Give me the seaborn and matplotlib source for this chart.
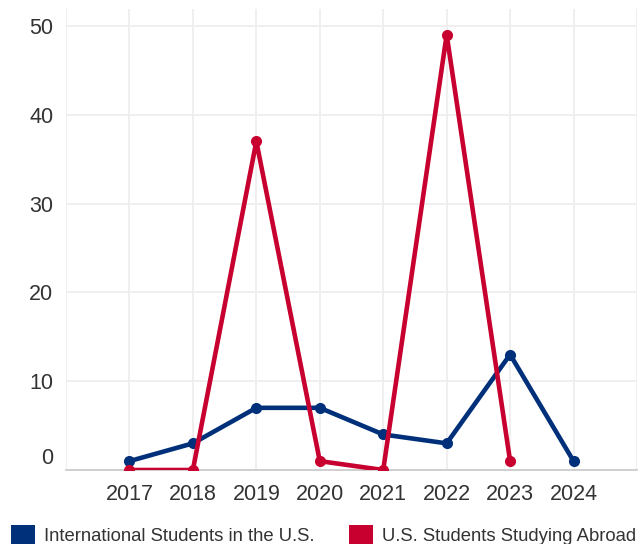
import matplotlib
matplotlib.use("Agg")
import matplotlib.pyplot as plt
import matplotlib.transforms as mtransforms
from matplotlib.patches import Patch
import seaborn as sns
import pandas as pd

years = [2017, 2018, 2019, 2020, 2021, 2022, 2023, 2024]
intl_students = [1, 3, 7, 7, 4, 3, 13, 1]
us_abroad = [0, 0, 37, 1, 0, 49, 1, None]
series_names = ["International Students in the U.S.", "U.S. Students Studying Abroad"]
colors = ["#00307A", "#C8002F"]
y_ticks = [0, 10, 20, 30, 40, 50]

df = pd.DataFrame({
    "year": years * 2,
    "value": intl_students + us_abroad,
    "series": [series_names[0]] * len(years) + [series_names[1]] * len(years),
}).dropna()

sns.set_theme(style="white")
plt.rcParams["font.family"] = ["Liberation Sans", "DejaVu Sans"]

fig = plt.figure(figsize=(6.42, 5.44), dpi=100)
ax = fig.add_axes([66 / 642, (544 - 470) / 544, (637 - 66) / 642, (470 - 9) / 544])

sns.lineplot(data=df, x="year", y="value", hue="series", palette=colors,
             hue_order=series_names, marker="o", markersize=8, markeredgewidth=0,
             linewidth=3.3, ax=ax, legend=False, zorder=3)

ax.set_xlim(2016, 2025)
ax.set_ylim(0, 51.9)
ax.set_xticks(list(range(2016, 2026)))
ax.set_xticklabels([""] + [str(y) for y in years] + [""])
ax.set_yticks(y_ticks)
ax.set_yticklabels([str(v) for v in y_ticks])
ax.grid(True, color="#eeeeee", linewidth=1.3)
ax.set_axisbelow(True)
ax.set_xlabel("")
ax.set_ylabel("")

for s in ["top", "right", "left"]:
    ax.spines[s].set_visible(False)
ax.spines["bottom"].set_color("#cccccc")
ax.spines["bottom"].set_linewidth(1.3)

ax.tick_params(axis="x", length=0, pad=10, labelsize=15.5, labelcolor="#333333")
ax.tick_params(axis="y", length=7, width=1.3, color="#eeeeee", pad=2,
               labelsize=15.5, labelcolor="#333333")
ax.set_xticks([2016, 2025], minor=True)
ax.tick_params(axis="x", which="minor", length=6, width=1.3, color="#dddddd")

# lift the "0" label slightly, as in the reference
lab0 = ax.get_yticklabels()[0]
lab0.set_transform(lab0.get_transform() +
                   mtransforms.ScaledTranslation(0, 14 / 100, fig.dpi_scale_trans))

handles = [Patch(facecolor=c, edgecolor="none") for c in colors]
fig.legend(handles=handles, labels=series_names, loc="center left",
           bbox_to_anchor=(11 / 642, 1 - 535 / 544), ncol=2, frameon=False,
           fontsize=13.3, labelcolor="#333333", handlelength=1.3, handleheight=1.3,
           handletextpad=0.49, columnspacing=1.84, borderpad=0, borderaxespad=0)

fig.savefig("out.png", dpi=100)
